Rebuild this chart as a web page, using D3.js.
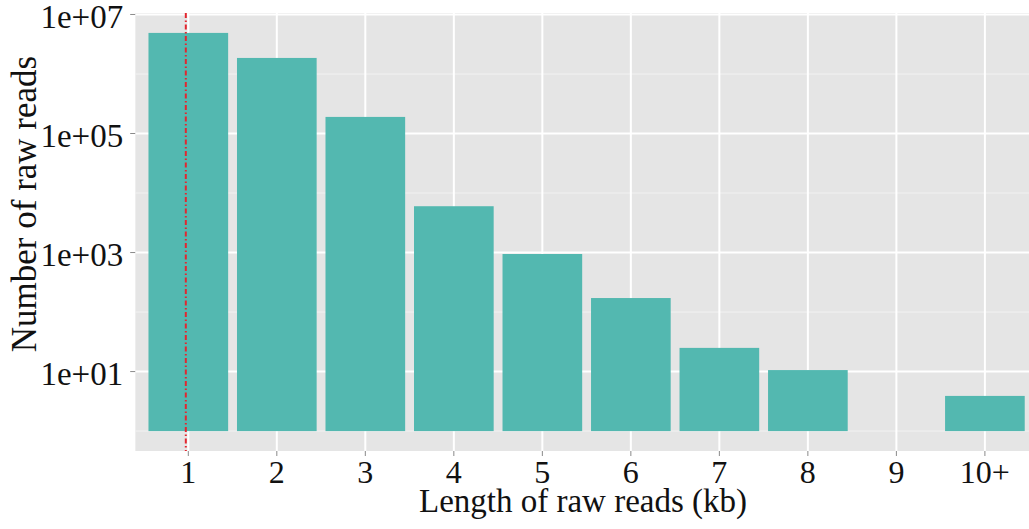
<!DOCTYPE html>
<html lang="en">
<head>
<meta charset="UTF-8">
<title>Length of raw reads</title>
<script src="https://d3js.org/d3.v7.min.js"></script>
<style>
  body { margin: 0; background: white; overflow: hidden; }
  svg { display: block; }
  text { font-family: "Liberation Serif", "DejaVu Serif", serif; fill: #111; }
</style>
</head>
<body>
<svg id="chart" width="1029" height="529"></svg>
<script>
// data
const categories = ["1", "2", "3", "4", "5", "6", "7", "8", "9", "10+"];
const readCounts = [4.9e6, 1.86e6, 1.9e5, 6000, 945, 172, 25, 10.6, 0, 3.9];
const yTickValues = [1e1, 1e3, 1e5, 1e7];
const yTickLabels = ["1e+01", "1e+03", "1e+05", "1e+07"];
const yMinorValues = [1e0, 1e2, 1e4, 1e6];
const thresholdCategory = "1";

const svg = d3.select("#chart");
const panel = { left: 135.2, right: 1038, top: 13, bottom: 451 };

// x: discrete with ggplot-like expansion
const x = d3.scaleBand()
    .domain(categories)
    .range([panel.left, panel.right])
    .paddingInner(0.1)
    .paddingOuter(0.15);

// y: log10 with 5% expansion of the log range (bars start at 1)
const lo = 0, hi = Math.log10(d3.max(readCounts));
const pad = (hi - lo) * 0.05;
const y = d3.scaleLog()
    .domain([Math.pow(10, lo - pad), Math.pow(10, hi + pad)])
    .range([panel.bottom, panel.top]);

// clip for panel (it runs a little past the right edge)
svg.append("defs").append("clipPath").attr("id", "clip")
  .append("rect")
    .attr("x", panel.left).attr("y", panel.top)
    .attr("width", panel.right - panel.left)
    .attr("height", panel.bottom - panel.top);

const g = svg.append("g").attr("clip-path", "url(#clip)");

g.append("rect")
    .attr("x", panel.left).attr("y", panel.top)
    .attr("width", panel.right - panel.left)
    .attr("height", panel.bottom - panel.top)
    .attr("fill", "#E5E5E5");

// minor grid
g.selectAll(".minor").data(yMinorValues).join("line")
    .attr("x1", panel.left).attr("x2", panel.right)
    .attr("y1", d => y(d)).attr("y2", d => y(d))
    .attr("stroke", "#F2F2F2").attr("stroke-width", 1);

// major grid
g.selectAll(".hmajor").data(yTickValues).join("line")
    .attr("x1", panel.left).attr("x2", panel.right)
    .attr("y1", d => y(d)).attr("y2", d => y(d))
    .attr("stroke", "#FFFFFF").attr("stroke-width", 2);

g.selectAll(".vmajor").data(categories).join("line")
    .attr("x1", d => x(d) + x.bandwidth() / 2)
    .attr("x2", d => x(d) + x.bandwidth() / 2)
    .attr("y1", panel.top).attr("y2", panel.bottom)
    .attr("stroke", "#FFFFFF").attr("stroke-width", 2);

// bars
const barData = categories.map((c, i) => ({ c, v: readCounts[i] })).filter(d => d.v > 0);
g.selectAll(".bar").data(barData).join("rect")
    .attr("x", d => x(d.c))
    .attr("width", x.bandwidth())
    .attr("y", d => y(d.v))
    .attr("height", d => y(1) - y(d.v))
    .attr("fill", "#53B8B0");

// threshold line at 1 kb
const xv = x(thresholdCategory) + x.bandwidth() / 2 - 2.5;
g.append("line")
    .attr("x1", xv).attr("x2", xv)
    .attr("y1", panel.top).attr("y2", panel.bottom)
    .attr("stroke", "#E3262F")
    .attr("stroke-width", 2)
    .attr("stroke-dasharray", "5,2.5,1.5,2.5");

// y axis ticks and labels
const ya = svg.append("g");
ya.selectAll("line").data(yTickValues).join("line")
    .attr("x1", panel.left - 5).attr("x2", panel.left)
    .attr("y1", d => y(d)).attr("y2", d => y(d))
    .attr("stroke", "#8A8A8A").attr("stroke-width", 1);
ya.selectAll("text").data(yTickValues).join("text")
    .attr("x", panel.left - 12)
    .attr("y", d => y(d))
    .attr("dy", "0.42em")
    .attr("text-anchor", "end")
    .style("font-size", "33px")
    .text((d, i) => yTickLabels[i]);

// x axis ticks and labels
const xa = svg.append("g");
xa.selectAll("line").data(categories).join("line")
    .attr("x1", d => x(d) + x.bandwidth() / 2)
    .attr("x2", d => x(d) + x.bandwidth() / 2)
    .attr("y1", panel.bottom).attr("y2", panel.bottom + 5)
    .attr("stroke", "#8A8A8A").attr("stroke-width", 1);
xa.selectAll("text").data(categories).join("text")
    .attr("x", d => x(d) + x.bandwidth() / 2)
    .attr("y", 483)
    .attr("text-anchor", "middle")
    .style("font-size", "32px")
    .text(d => d);

// axis titles
svg.append("text")
    .attr("x", 583)
    .attr("y", 512)
    .attr("text-anchor", "middle")
    .style("font-size", "33px")
    .text("Length of raw reads (kb)");

svg.append("text")
    .attr("transform", "translate(36,204) rotate(-90)")
    .attr("text-anchor", "middle")
    .style("font-size", "35px")
    .text("Number of raw reads");
</script>
</body>
</html>
